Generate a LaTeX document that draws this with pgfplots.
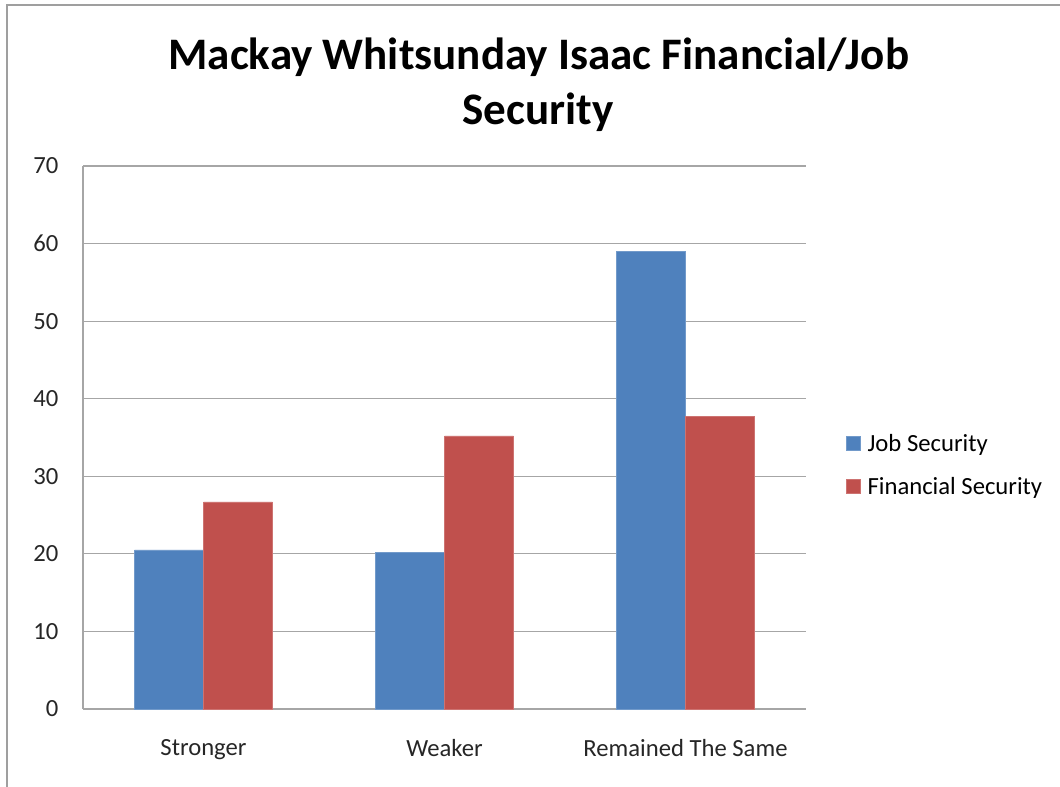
\documentclass[border=0pt]{standalone}
\usepackage{pgfplots}
\pgfplotsset{compat=1.18}
\usepackage{fontspec}
\setmainfont{Carlito}
\definecolor{jobblue}{HTML}{4F81BD}
\definecolor{finred}{HTML}{C0504D}
\definecolor{gridgray}{HTML}{A6A6A6}
\begin{document}
\begin{tikzpicture}
% picture frame, 1px = 0.75pt
\useasboundingbox (0,0) rectangle (795pt,-590.25pt);
\draw[gray!75, line width=1.2pt] (5.25pt,-590.25pt) -- (5.25pt,-3.75pt) -- (795pt,-3.75pt);

\node[anchor=base, font=\bfseries\fontsize{33.8}{40}\selectfont] at (404pt,-52pt) {Mackay Whitsunday Isaac Financial/Job};
\node[anchor=base, font=\bfseries\fontsize{33.8}{40}\selectfont] at (403.5pt,-93.5pt) {Security};

\begin{axis}[
    at={(62.25pt,-531.75pt)}, anchor=south west,
    scale only axis,
    width=542.25pt, height=407.25pt,
    ybar=0pt,
    bar width=0.286,
    xmin=-0.5, xmax=2.5,
    ymin=0, ymax=70,
    ytick={0,10,...,70},
    xtick={0,1,2},
    xticklabels={Stronger, Weaker, Remained The Same},
    major tick length=0pt,
    ymajorgrids,
    grid style={gridgray, line width=0.9pt},
    axis x line*=bottom,
    axis y line*=left,
    axis line style={gridgray, line width=0.9pt, -},
    tick label style={font=\fontsize{18.5}{21}\selectfont, text=black!85},
    yticklabel style={xshift=-15pt},
    xticklabel style={yshift=-19pt},
    /pgf/number format/assume math mode=true,
    legend style={at={(1.05,0.449)}, anchor=west, draw=none,
        font=\fontsize{18.5}{21}\selectfont, row sep=14pt,
        legend cell align=left},
    legend image code/.code={\fill[#1] (0pt,-5.25pt) rectangle (10.5pt,5.25pt);
        \path (13.5pt,0pt);},
]
\addplot[fill=jobblue, draw=jobblue!80!white, line width=0.4pt]
    coordinates {(0,20.5) (1,20.2) (2,59.0)};
\addlegendentry{Job Security}
\addplot[fill=finred, draw=finred!80!white, line width=0.4pt]
    coordinates {(0,26.7) (1,35.2) (2,37.7)};
\addlegendentry{Financial Security}
\end{axis}
\end{tikzpicture}
\end{document}
